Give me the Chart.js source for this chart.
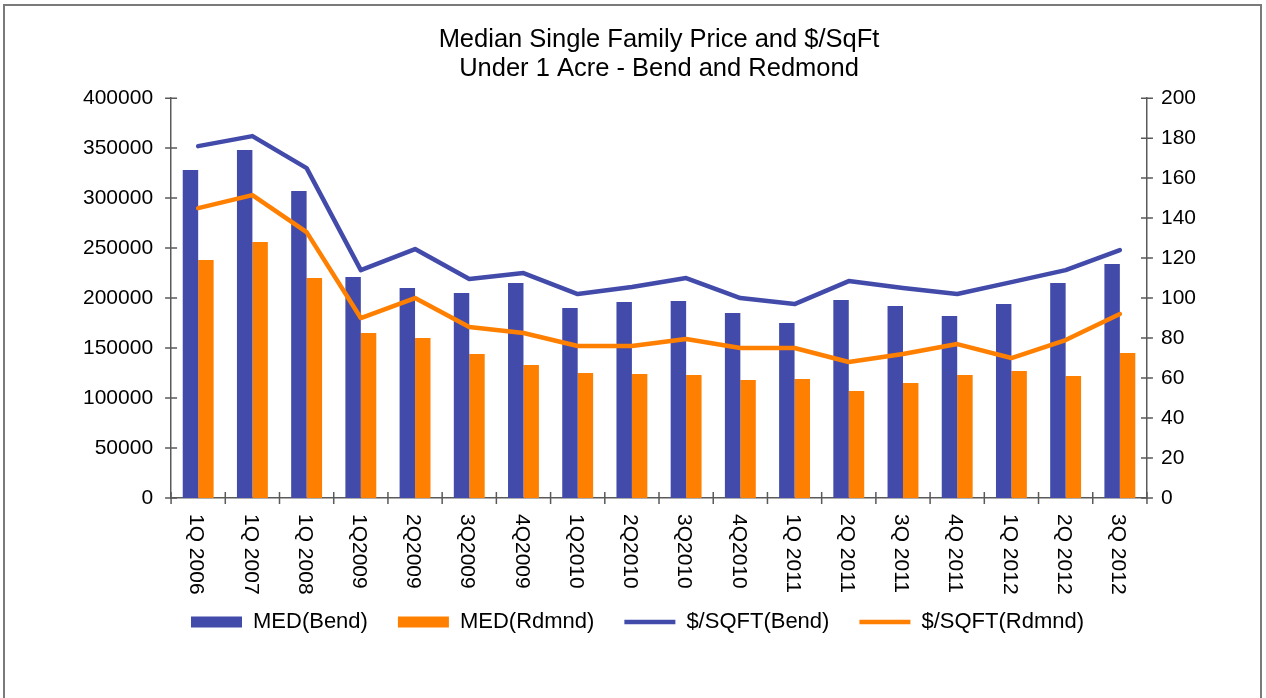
<!DOCTYPE html>
<html>
<head>
<meta charset="utf-8">
<title>Median Single Family Price and $/SqFt</title>
<script src="https://cdn.jsdelivr.net/npm/chart.js@4.4.1/dist/chart.umd.min.js"></script>
<style>
  html, body { margin: 0; padding: 0; background: #fff; }
  #wrap { width: 1266px; height: 698px; }
</style>
</head>
<body>
<div id="wrap"><canvas id="priceChart" width="1266" height="698"></canvas></div>
<script>
// categories (quarters)
const quarters = ['1Q 2006', '1Q 2007', '1Q 2008', '1Q2009', '2Q2009', '3Q2009', '4Q2009',
  '1Q2010', '2Q2010', '3Q2010', '4Q2010', '1Q 2011', '2Q 2011', '3Q 2011', '4Q 2011',
  '1Q 2012', '2Q 2012', '3Q 2012'];

// median price, left axis
const medBend = [328000, 348000, 307000, 221000, 210000, 205000, 215000, 190000, 196000,
  197000, 185000, 175000, 198000, 192000, 182000, 194000, 215000, 234000];
const medRdmnd = [238000, 256000, 220000, 165000, 160000, 144000, 133000, 125000, 124000,
  123000, 118000, 119000, 107000, 115000, 123000, 127000, 122000, 145000];

// price per square foot, right axis
const sqftBend = [176, 181, 165, 114, 124.5, 109.5, 112.5, 102, 105.5, 110, 100, 97,
  108.5, 105, 102, 108, 114, 124];
const sqftRdmnd = [145, 151.5, 133, 90, 100, 85.5, 82.5, 76, 76, 79.5, 75, 75,
  68, 72, 77, 70, 79, 92];

const titleLines = ['Median Single Family Price and $/SqFt', 'Under 1 Acre - Bend and Redmond'];

const BLUE = '#434BAA';
const ORANGE = '#FF8000';
const AXIS = '#5a5a5a';
const FONT = '"Liberation Sans", Arial, Helvetica, sans-serif';

// outer frame of the picture
const framePlugin = {
  id: 'frame',
  beforeDraw(chart) {
    const c = chart.ctx;
    c.save();
    c.strokeStyle = '#7a7a7a';
    c.lineWidth = 2;
    c.strokeRect(4, 5, 1257, 720);
    c.restore();
  }
};

// tick marks that cross the axis lines, and the x labels turned clockwise
const axisPlugin = {
  id: 'axisExtras',
  afterDraw(chart) {
    const c = chart.ctx;
    const x = chart.scales.x;
    const y = chart.scales.y;
    const y1 = chart.scales.y1;
    c.save();
    c.strokeStyle = AXIS;
    c.lineWidth = 1.5;
    c.beginPath();
    y.ticks.forEach((t, i) => {
      const py = y.getPixelForTick(i);
      c.moveTo(x.left - 6, py);
      c.lineTo(x.left + 6, py);
    });
    y1.ticks.forEach((t, i) => {
      const py = y1.getPixelForTick(i);
      c.moveTo(x.right - 6, py);
      c.lineTo(x.right + 6, py);
    });
    for (let i = 0; i <= quarters.length; i++) {
      const px = x.left + (x.right - x.left) * i / quarters.length;
      c.moveTo(px, y.bottom - 6);
      c.lineTo(px, y.bottom + 6);
    }
    c.stroke();

    c.fillStyle = '#000';
    c.font = '21px ' + FONT;
    c.textAlign = 'left';
    c.textBaseline = 'middle';
    quarters.forEach((q, i) => {
      const px = x.getPixelForValue(i);
      c.save();
      c.translate(px - 2, y.bottom + 16);
      c.rotate(Math.PI / 2);
      c.fillText(q, 0, 0);
      c.restore();
    });
    c.restore();
  }
};

const ctx = document.getElementById('priceChart').getContext('2d');

new Chart(ctx, {
  data: {
    labels: quarters,
    datasets: [
      {
        type: 'bar',
        label: 'MED(Bend)',
        data: medBend,
        backgroundColor: BLUE,
        yAxisID: 'y',
        order: 2,
        pointStyle: 'rect',
        categoryPercentage: 0.57,
        barPercentage: 1
      },
      {
        type: 'bar',
        label: 'MED(Rdmnd)',
        data: medRdmnd,
        backgroundColor: ORANGE,
        yAxisID: 'y',
        order: 2,
        pointStyle: 'rect',
        categoryPercentage: 0.57,
        barPercentage: 1
      },
      {
        type: 'line',
        label: '$/SQFT(Bend)',
        data: sqftBend,
        borderColor: BLUE,
        backgroundColor: BLUE,
        borderWidth: 4.5,
        pointRadius: 0,
        pointStyle: 'line',
        borderCapStyle: 'round',
        borderJoinStyle: 'round',
        tension: 0,
        yAxisID: 'y1',
        order: 1
      },
      {
        type: 'line',
        label: '$/SQFT(Rdmnd)',
        data: sqftRdmnd,
        borderColor: ORANGE,
        backgroundColor: ORANGE,
        borderWidth: 4.5,
        pointRadius: 0,
        pointStyle: 'line',
        borderCapStyle: 'round',
        borderJoinStyle: 'round',
        tension: 0,
        yAxisID: 'y1',
        order: 1
      }
    ]
  },
  options: {
    responsive: false,
    animation: false,
    devicePixelRatio: 1,
    layout: { padding: { left: 73, right: 64, top: 0, bottom: 55 } },
    scales: {
      x: {
        offset: true,
        grid: { display: false },
        border: { display: true, color: AXIS, width: 1.5 },
        ticks: { display: false },
        afterFit(scale) { scale.height = 83; }
      },
      y: {
        position: 'left',
        min: 0,
        max: 400000,
        grid: { display: false },
        border: { display: true, color: AXIS, width: 1.5 },
        ticks: {
          stepSize: 50000,
          padding: 10,
          color: '#000',
          font: { family: FONT, size: 21 },
          callback: (v) => String(v)
        }
      },
      y1: {
        position: 'right',
        min: 0,
        max: 200,
        grid: { display: false },
        border: { display: true, color: AXIS, width: 1.5 },
        ticks: {
          stepSize: 20,
          padding: 6,
          color: '#000',
          font: { family: FONT, size: 21 },
          callback: (v) => String(v)
        }
      }
    },
    plugins: {
      title: {
        display: true,
        text: titleLines,
        fullSize: false,
        color: '#000',
        font: { family: FONT, size: 25.5, weight: 'normal', lineHeight: 1.14 },
        padding: { top: 25, bottom: 15 }
      },
      legend: {
        display: true,
        position: 'bottom',
        labels: {
          usePointStyle: true,
          pointStyleWidth: 51,
          boxHeight: 11,
          padding: 30,
          color: '#000',
          font: { family: FONT, size: 22 },
          sort: (a, b) => a.datasetIndex - b.datasetIndex
        }
      },
      tooltip: { enabled: false }
    }
  },
  plugins: [framePlugin, axisPlugin]
});
</script>
</body>
</html>
